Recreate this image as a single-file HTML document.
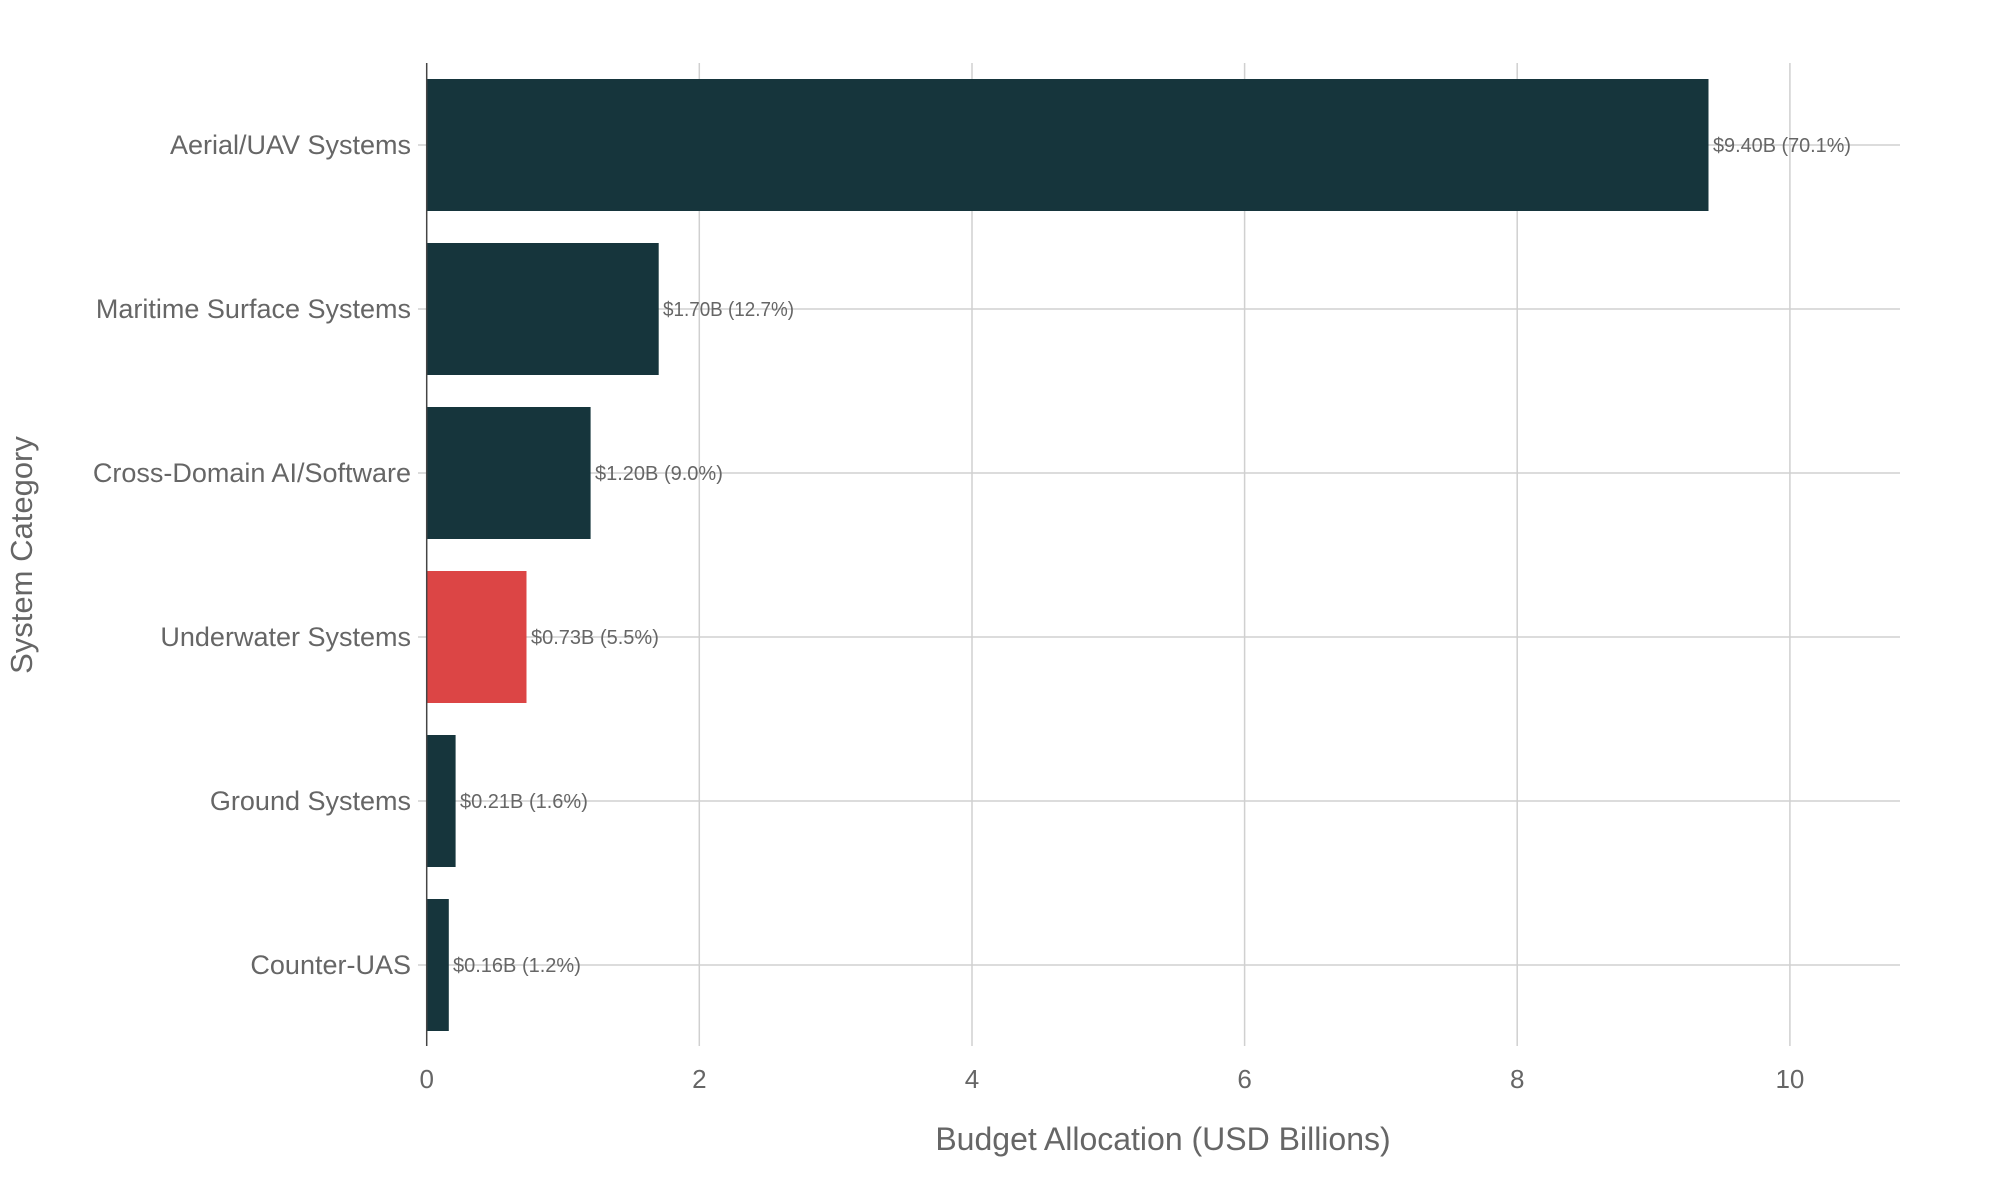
<!DOCTYPE html>
<html><head><meta charset="utf-8"><style>body{margin:0;background:#fff}</style></head><body>
<svg width="2000" height="1197" xmlns="http://www.w3.org/2000/svg" font-family="Liberation Sans, sans-serif">
<rect width="2000" height="1197" fill="#fff"/>
<g stroke="#d0d0d0" stroke-width="1.5">
<line x1="699.3" y1="63" x2="699.3" y2="1046"/>
<line x1="972" y1="63" x2="972" y2="1046"/>
<line x1="1244.6" y1="63" x2="1244.6" y2="1046"/>
<line x1="1517.2" y1="63" x2="1517.2" y2="1046"/>
<line x1="1789.9" y1="63" x2="1789.9" y2="1046"/>
<line x1="418" y1="145" x2="1900" y2="145"/>
<line x1="418" y1="309" x2="1900" y2="309"/>
<line x1="418" y1="473" x2="1900" y2="473"/>
<line x1="418" y1="637" x2="1900" y2="637"/>
<line x1="418" y1="801" x2="1900" y2="801"/>
<line x1="418" y1="965" x2="1900" y2="965"/>
</g>
<g fill="#16353c">
<rect x="427" y="79" width="1281.5" height="132"/>
<rect x="427" y="243" width="231.7" height="132"/>
<rect x="427" y="407" width="163.6" height="132"/>
<rect x="427" y="571" width="99.5" height="132" fill="#dc4545"/>
<rect x="427" y="735" width="28.6" height="132"/>
<rect x="427" y="899" width="21.8" height="132"/>
</g>
<line x1="426.7" y1="63" x2="426.7" y2="1046" stroke="#444" stroke-width="1.5"/>
<g font-size="20" fill="#666">
<text x="1713" y="152" textLength="138" lengthAdjust="spacingAndGlyphs">$9.40B (70.1%)</text>
<text x="663" y="316" textLength="131" lengthAdjust="spacingAndGlyphs">$1.70B (12.7%)</text>
<text x="595" y="480">$1.20B (9.0%)</text>
<text x="531" y="644">$0.73B (5.5%)</text>
<text x="460" y="808">$0.21B (1.6%)</text>
<text x="453" y="972">$0.16B (1.2%)</text>
</g>
<g font-size="27" fill="#666" text-anchor="end">
<text x="411" y="154">Aerial/UAV Systems</text>
<text x="411" y="318">Maritime Surface Systems</text>
<text x="411" y="482">Cross-Domain AI/Software</text>
<text x="411" y="646">Underwater Systems</text>
<text x="411" y="810">Ground Systems</text>
<text x="411" y="974">Counter-UAS</text>
</g>
<g font-size="26" fill="#666" text-anchor="middle">
<text x="426.7" y="1088">0</text>
<text x="699.3" y="1088">2</text>
<text x="972" y="1088">4</text>
<text x="1244.6" y="1088">6</text>
<text x="1517.2" y="1088">8</text>
<text x="1789.9" y="1088">10</text>
<text x="1163" y="1150" font-size="32">Budget Allocation (USD Billions)</text>
<text transform="translate(32,555) rotate(-90)" font-size="31">System Category</text>
</g>
</svg>
</body></html>
